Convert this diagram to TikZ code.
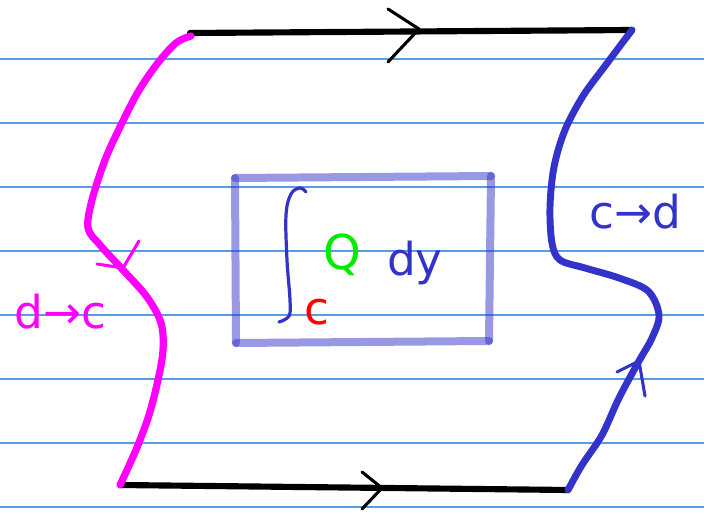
\documentclass[tikz,border=0pt]{standalone}
\usepackage{fontspec}
\setmainfont{DejaVu Sans}
\definecolor{pink}{RGB}{255,0,255}
\definecolor{penblue}{RGB}{51,51,204}
\definecolor{rulecol}{RGB}{90,155,230}
\definecolor{qgreen}{RGB}{0,235,0}
\definecolor{cred}{RGB}{255,0,0}
\begin{document}
\begin{tikzpicture}[x=0.75pt,y=-0.75pt,
  ruleline/.style={draw=rulecol, line width=1.1pt},
  blackedge/.style={draw=black, line width=4.6pt, line cap=round},
  pinkcurve/.style={draw=pink, line width=5.4pt, line cap=round, line join=round},
  bluecurve/.style={draw=penblue, line width=5.2pt, line cap=round, line join=round},
  chev/.style={line width=2.3pt, line cap=round, line join=round},
  boxside/.style={draw=penblue, line width=6pt, line cap=round, opacity=0.5},
  handtext/.style={inner sep=0pt, font=\fontsize{34}{34}\selectfont},
]
\useasboundingbox[fill=white] (0,0) rectangle (704,516);
% ruled paper
\foreach \yy in {59,123,187,251,315,379,443,507}
  \draw[ruleline] (0,\yy) -- (704,\yy);

% corners
\coordinate (A) at (191,36);
\coordinate (B) at (632,30);
\coordinate (C) at (568,490);
\coordinate (D) at (120,485);

% top and bottom black edges
\draw[blackedge] (190,33) -- (B);
\draw[blackedge] (D) -- (C);
\coordinate (topTip) at (419,29);
\coordinate (botTip) at (382,488);
\draw[chev, black] (388,9) -- (topTip) -- (388,62);
\draw[chev, black] (362,472) -- (botTip) -- (362,509);

% left magenta curve
\draw[pinkcurve] plot[smooth, tension=0.55] coordinates {(A) (176,43) (157,64) (138,92) (120,127) (105,160) (92,200) (88,228) (100,245) (123,270) (147,297) (161,323) (163,350) (158,380) (149,415) (138,445) (127,470) (D)};
\coordinate (pinkTip) at (123,268);
\draw[chev, pink] (97,264) -- (pinkTip) -- (139,241);

% right blue curve
\draw[bluecurve] plot[smooth, tension=0.55] coordinates {(B) (605,66) (583,96) (565,130) (554,167) (550,207) (552,243) (560,260) (585,268) (619,278) (648,291) (659,315) (652,338) (639,361) (619,398) (602,435) (582,465) (C)};
\coordinate (blueTip) at (639,361);
\draw[chev, penblue] (617,372) -- (blueTip) -- (645,396);

% box
\coordinate (TL) at (235,178);
\coordinate (TR) at (491,176);
\coordinate (BR) at (489,341);
\coordinate (BL) at (236,343);
\draw[boxside] (TL) -- (TR);
\draw[boxside] (TR) -- (BR);
\draw[boxside] (BR) -- (BL);
\draw[boxside] (BL) -- (TL);

% integral sign
\draw[chev, penblue, line width=2.4pt] plot[smooth, tension=0.6] coordinates {(306,192) (300,188) (291,194) (286,215) (287,260) (290,300) (289,316) (279,322)};

% texts
\node[handtext, text=cred, anchor=base] (lowc) at (317,325) {c};
\node[handtext, text=qgreen, anchor=base, font=\fontsize{36}{36}\selectfont] (Q) at (342,270) {Q};
\node[handtext, text=penblue, anchor=base] (dy) at (415,276) {dy};
\node[handtext, text=pink, anchor=base west] (dc) at (14,329) {d→c};
\node[handtext, text=penblue, anchor=base west] (cd) at (589,229) {c→d};
\end{tikzpicture}
\end{document}
